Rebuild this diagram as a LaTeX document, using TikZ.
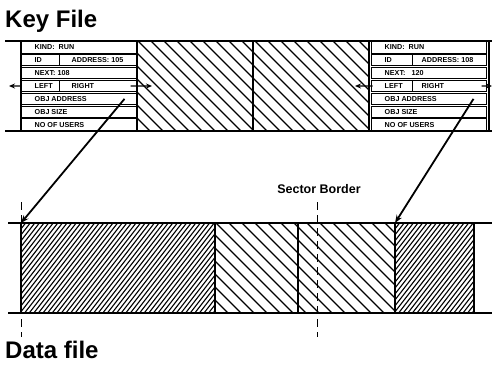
\documentclass[tikz,border=0pt]{standalone}
\usepackage{fontspec}
\setmainfont{Liberation Sans}
\usetikzlibrary{arrows.meta}
\tikzset{
  frameline/.style={line width=1.8pt},
  divline/.style={line width=1.4pt},
  hatchline/.style={line width=1.1pt},
  cellline/.style={line width=1pt},
  rowbox/.style={draw, rectangle, line width=1pt, inner sep=0pt, minimum width=115pt, minimum height=11.2pt},
  celltext/.style={font=\fontsize{7.2}{8}\selectfont\bfseries, inner sep=0pt, anchor=west},
  ptr/.style={line width=1.4pt, -{Stealth[length=6pt,width=5pt]}},
  datalink/.style={line width=1.8pt, -{Stealth[length=8pt,width=6pt]}},
  sectorline/.style={line width=1pt, dash pattern=on 8pt off 5pt},
  heading/.style={font=\fontsize{24}{28}\selectfont\bfseries, inner sep=0pt, anchor=base west},
  labeltext/.style={font=\fontsize{12.5}{14}\selectfont\bfseries, inner sep=0pt, anchor=base},
}
% x1 y1 x2 y2 spacing run dir(0 = "\", 1 = "/")
\newcommand\hatchfill[7]{%
  \begin{scope}
    \clip (#1,#2) rectangle (#3,#4);
    \pgfmathsetmacro\hfirst{#1-#6}
    \pgfmathsetmacro\hsecond{#1-#6+#5}
    \foreach \hx in {\hfirst,\hsecond,...,#3} {
      \ifnum#7=0 \draw[hatchline] (\hx,#2) -- ++(#6,#4-#2);
      \else \draw[hatchline] (\hx,#4) -- ++(#6,#2-#4); \fi
    }
  \end{scope}}
% prefix, left x, separator offset, address text, next number, next offset
\newcommand\keyrecord[6]{%
  \foreach \i in {1,...,7}
    \node[rowbox] (#1r\i) at ({#2+57.5},{41+(\i-0.5)*12.857}) {};
  \draw[cellline] ([xshift=#3pt]#1r2.north west) -- ([xshift=#3pt]#1r2.south west);
  \draw[cellline] ([xshift=#3pt]#1r4.north west) -- ([xshift=#3pt]#1r4.south west);
  \node[celltext] (#1kind) at ([xshift=14pt]#1r1.west) {\makebox[24pt][l]{KIND:}RUN};
  \node[celltext] (#1id) at ([xshift=14pt]#1r2.west) {ID};
  \node[celltext] (#1addr) at ([xshift=51pt]#1r2.west) {#4};
  \node[celltext] (#1next) at ([xshift=14pt]#1r3.west) {\makebox[#6pt][l]{NEXT:}#5};
  \node[celltext] (#1left) at ([xshift=14pt]#1r4.west) {LEFT};
  \node[celltext] (#1right) at ([xshift=51pt]#1r4.west) {RIGHT};
  \node[celltext] (#1obja) at ([xshift=14pt]#1r5.west) {OBJ ADDRESS};
  \node[celltext] (#1objs) at ([xshift=14pt]#1r6.west) {OBJ SIZE};
  \node[celltext] (#1users) at ([xshift=14pt]#1r7.west) {NO OF USERS};
}
\begin{document}
\begin{tikzpicture}[x=1pt,y=-1pt]
\useasboundingbox (0,0) rectangle (492,372);

% titles
\node[heading] (keytitle) at (5,27.5) {Key File};
\node[heading] (datatitle) at (5,358) {Data file};
\node[labeltext] (sectorlabel) at (319,193) {Sector Border};

% ---- key file ----
\hatchfill{137}{41}{369}{131}{13}{90}{0}
\draw[frameline] (5,41) -- (492,41);
\draw[frameline] (5,131) -- (492,131);
\draw[divline] (21,41) -- (21,131);
\draw[divline] (137,41) -- (137,131);
\draw[divline] (253,41) -- (253,131);
\draw[divline] (369,41) -- (369,131);
\draw[divline] (489,41) -- (489,131);

\keyrecord{L}{21}{39}{ADDRESS: 105}{108}{23}
\keyrecord{R}{371}{42}{ADDRESS: 108}{120}{27}

% pointers
\coordinate (Llefttip) at (9,86);
\coordinate (Lrighttip) at (152,86);
\coordinate (Rlefttip) at (355,86);
\coordinate (Rrighttip) at (492,86);
\draw[ptr] (Lr4.west) -- (Llefttip);
\draw[ptr] ([xshift=-6pt]Lr4.east) -- (Lrighttip);
\draw[ptr] ([xshift=2pt]Rr4.west) -- (Rlefttip);
\draw[ptr] ([xshift=-5pt]Rr4.east) -- (Rrighttip);

% ---- data file ----
\hatchfill{21}{223}{215}{313}{4.6}{70}{1}
\hatchfill{215}{223}{395}{313}{13}{90}{0}
\hatchfill{395}{223}{474}{313}{4.6}{70}{1}
\draw[sectorline] (21,202) -- (21,337);
\draw[sectorline] (317,202) -- (317,337);
\draw[frameline] (8,223) -- (492,223);
\draw[frameline] (8,313) -- (492,313);
\foreach \vx in {21,215,298,395,474}
  \draw[divline] (\vx,223) -- (\vx,313);

% links from key records to data
\coordinate (DL) at (21,223);
\coordinate (DR) at (395,223);
\draw[datalink] ([xshift=-12pt]Lr5.east) -- (DL);
\draw[datalink] ([xshift=-13pt]Rr5.east) -- (DR);
\end{tikzpicture}
\end{document}
